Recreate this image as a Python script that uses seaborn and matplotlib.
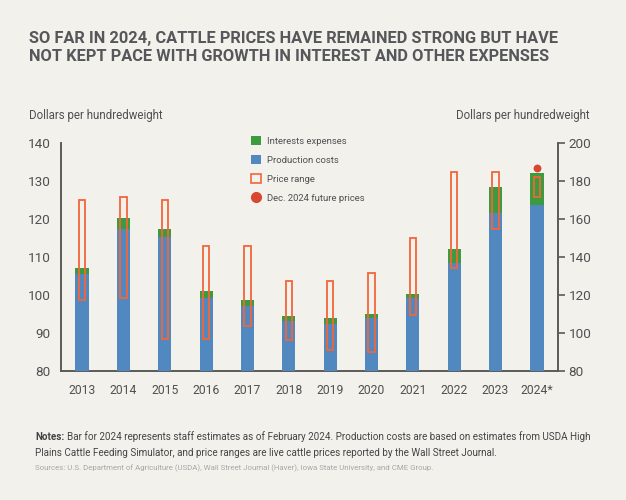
import numpy as np
import pandas as pd
import seaborn as sns
import matplotlib.pyplot as plt
from matplotlib.patches import Patch
from matplotlib.lines import Line2D

# =======================================
# DATA (dollars per hundredweight, right-hand scale)
# =======================================
years = ["2013", "2014", "2015", "2016", "2017", "2018",
         "2019", "2020", "2021", "2022", "2023", "2024*"]
production_costs = [131.0, 154.8, 150.4, 118.6, 114.2, 106.2,
                    105.0, 108.0, 118.2, 136.6, 163.0, 167.4]
interest_expenses = [3.2, 5.8, 4.4, 3.4, 3.0, 3.0,
                     2.8, 2.2, 2.2, 7.4, 13.6, 16.6]
price_low = [117.2, 118.6, 97.0, 97.0, 103.6, 96.2,
             90.8, 90.2, 109.6, 134.2, 154.6, 171.4]
price_high = [169.8, 171.6, 169.8, 145.6, 145.6, 127.6,
              127.6, 131.4, 149.8, 184.6, 184.6, 182.2]
futures_year = "2024*"
futures_price = 186.6

left_ticks = [80, 90, 100, 110, 120, 130, 140]
right_ticks = [80, 100, 120, 140, 160, 180, 200]

legend_labels = ["Interests expenses", "Production costs",
                 "Price range", "Dec. 2024 future prices"]

# --- colours ---
BG = "#F3F1EC"
GREEN = "#3A9B3F"
BLUE = "#5088BF"
ORANGE = "#F2653A"
RED = "#D8472F"
TEXT = "#505050"
AXIS = "#5a5a5a"

sns.set_theme(style="white", rc={
    "figure.facecolor": BG,
    "axes.facecolor": BG,
    "savefig.facecolor": BG,
    "axes.edgecolor": AXIS,
    "text.color": TEXT,
    "xtick.color": AXIS,
    "ytick.color": AXIS,
    "xtick.labelcolor": TEXT,
    "ytick.labelcolor": TEXT,
})
plt.rcParams["font.family"] = ["Roboto", "DejaVu Sans"]

df = pd.DataFrame({"year": years,
                   "production": production_costs,
                   "interest": interest_expenses})
df["total"] = df["production"] + df["interest"]


def fx(px):
    return px / 626


def fy(py):
    return 1 - py / 500


fig = plt.figure(figsize=(6.26, 5.0), dpi=100)
ax = fig.add_axes([0.0981, 0.258, 0.7926, 0.456])
ax2 = ax.twinx()

# --- stacked bars: total (green) behind production (blue) ---
sns.barplot(data=df, x="year", y="total", color=GREEN, width=0.32,
            linewidth=0, saturation=1, ax=ax2)
sns.barplot(data=df, x="year", y="production", color=BLUE, width=0.32,
            linewidth=0, saturation=1, ax=ax2)

# --- price range boxes ---
ax2.bar(df["year"], np.array(price_high) - np.array(price_low),
        bottom=price_low, width=0.15, fill=False, edgecolor=ORANGE,
        linewidth=1.3, zorder=3)
ax2.scatter([futures_year], [futures_price], s=32, color=RED,
            zorder=4, linewidths=0)

# --- axes ---
ax2.set_xlim(-0.5, 11.5)
ax.set_ylim(80, 140)
ax.set_yticks(left_ticks)
ax2.set_ylim(80, 200)
ax2.set_yticks(right_ticks)
ax2.set_xlabel("")
ax2.set_ylabel("")
ax.set_xlabel("")

for s in ["top", "right"]:
    ax.spines[s].set_visible(False)
for s in ["top", "left", "bottom"]:
    ax2.spines[s].set_visible(False)
for sp in [ax.spines["left"], ax.spines["bottom"], ax2.spines["right"]]:
    sp.set_linewidth(1.4)
    sp.set_color(AXIS)

ax.tick_params(axis="y", length=0, pad=8, labelsize=9.7)
ax.tick_params(axis="x", length=0, pad=9, labelsize=8.7)
ax2.tick_params(axis="y", length=5, width=1.2, pad=3, labelsize=9.7,
                direction="out")

# --- legend ---
handles = [
    Patch(facecolor=GREEN, edgecolor="none"),
    Patch(facecolor=BLUE, edgecolor="none"),
    Patch(facecolor="none", edgecolor=ORANGE, linewidth=1.2),
    Line2D([], [], marker="o", linestyle="none", color=RED, markersize=7),
]
leg = ax2.legend(handles, legend_labels, loc="upper left",
                 bbox_to_anchor=(fx(251.5), fy(136)),
                 bbox_transform=fig.transFigure, frameon=False,
                 fontsize=6.8, handlelength=1.05, handleheight=1.05,
                 handletextpad=0.6, labelspacing=1.0, borderpad=0,
                 borderaxespad=0)
for t in leg.get_texts():
    t.set_color(TEXT)

# --- titles and labels ---
fig.text(fx(29), fy(31),
         "SO FAR IN 2024, CATTLE PRICES HAVE REMAINED STRONG BUT HAVE\n"
         "NOT KEPT PACE WITH GROWTH IN INTEREST AND OTHER EXPENSES",
         ha="left", va="top", fontsize=11.75, fontweight="bold",
         color="#56575a", linespacing=1.25)
fig.text(fx(29), fy(115), "Dollars per hundredweight", ha="left",
         va="center", fontsize=8.3, color=TEXT)
fig.text(fx(590), fy(115), "Dollars per hundredweight", ha="right",
         va="center", fontsize=8.3, color=TEXT)

# --- notes and sources ---
notes_head = fig.text(fx(35), fy(437), "Notes:", ha="left", va="center",
                      fontsize=7.12, fontweight="bold", color="#444444")
ax.annotate("Bar for 2024 represents staff estimates as of February 2024. "
            "Production costs are based on estimates from USDA High",
            xy=(1, 0), xycoords=notes_head, xytext=(2.2, 0),
            textcoords="offset points", ha="left", va="bottom",
            fontsize=7.12, color="#444444", annotation_clip=False)
fig.text(fx(35), fy(453),
         "Plains Cattle Feeding Simulator, and price ranges are live cattle "
         "prices reported by the Wall Street Journal.",
         ha="left", va="center", fontsize=7.12, color="#444444")
fig.text(fx(35), fy(468),
         "Sources: U.S. Department of Agriculture (USDA), Wall Street Journal "
         "(Haver), Iowa State University, and CME Group.",
         ha="left", va="center", fontsize=5.7, color="#a8a8a8")

fig.savefig("out.png", dpi=100)
